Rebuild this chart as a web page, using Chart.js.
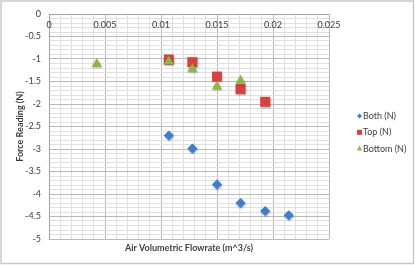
<!DOCTYPE html>
<html>
<head>
<meta charset="utf-8">
<script src="https://cdn.jsdelivr.net/npm/chart.js@4.4.1/dist/chart.umd.min.js"></script>
<style>
  html, body { margin: 0; padding: 0; background: #fff; }
  #wrap { width: 415px; height: 265px; }
</style>
</head>
<body>
<div id="wrap"><canvas id="forceChart" width="415" height="265"></canvas></div>
<script>
/* Force reading vs air volumetric flowrate — scatter */

const bothX   = [0.0107, 0.0128, 0.0150, 0.0171, 0.0193, 0.0214];
const bothY   = [-2.70, -2.99, -3.79, -4.20, -4.38, -4.47];
const topX    = [0.0107, 0.0128, 0.0150, 0.0171, 0.0193];
const topY    = [-1.01, -1.07, -1.39, -1.67, -1.95];
const bottomX = [0.00426, 0.0107, 0.0128, 0.0150, 0.0171];
const bottomY = [-1.11, -1.05, -1.22, -1.61, -1.48];

const xTickLabels = [0, 0.005, 0.01, 0.015, 0.02, 0.025];
const seriesNames = ['Both (N)', 'Top (N)', 'Bottom (N)'];

const FONT = 'Lato, "Open Sans", sans-serif';
const TEXT = '#404040';

function pts(xs, ys) {
  return xs.map((x, i) => ({ x: x, y: ys[i] }));
}

function isMultiple(v, step) {
  const q = v / step;
  return Math.abs(q - Math.round(q)) < 1e-6;
}

function fmt(v) {
  const r = Math.round(v * 1000) / 1000;
  return String(r === 0 ? 0 : r);
}

// white background + light frame around the whole chart
const framePlugin = {
  id: 'frame',
  beforeDraw(chart) {
    const ctx = chart.ctx;
    ctx.save();
    ctx.fillStyle = '#fff';
    ctx.fillRect(0, 0, chart.width, chart.height);
    ctx.strokeStyle = '#c9c9c9';
    ctx.lineWidth = 1.5;
    ctx.strokeRect(1, 1, chart.width - 2.5, chart.height - 2.5);
    ctx.restore();
  }
};

// x labels sit just under the y=0 axis line (Excel style)
const topLabelsPlugin = {
  id: 'topLabels',
  afterDraw(chart) {
    const ctx = chart.ctx;
    const xs = chart.scales.x;
    ctx.save();
    ctx.font = '9px ' + FONT;
    ctx.fillStyle = TEXT;
    ctx.textAlign = 'center';
    ctx.textBaseline = 'middle';
    xTickLabels.forEach(v => {
      ctx.fillText(fmt(v), xs.getPixelForValue(v), chart.chartArea.top + 11);
    });
    ctx.restore();
  }
};

// soft drop shadow on markers
const shadowPlugin = {
  id: 'shadow',
  beforeDatasetsDraw(chart) {
    const ctx = chart.ctx;
    ctx.save();
    ctx.shadowColor = 'rgba(0,0,0,0.35)';
    ctx.shadowBlur = 2;
    ctx.shadowOffsetX = 0.5;
    ctx.shadowOffsetY = 1;
  },
  afterDatasetsDraw(chart) {
    chart.ctx.restore();
  }
};

// legend on the right, small markers
const legendPlugin = {
  id: 'sideLegend',
  afterDraw(chart) {
    const ctx = chart.ctx;
    const mx = 359.5, tx = 363, y0 = 116, step = 16.3;
    ctx.save();
    ctx.font = '9px ' + FONT;
    ctx.textAlign = 'left';
    ctx.textBaseline = 'middle';
    chart.data.datasets.forEach((ds, i) => {
      const y = y0 + i * step;
      ctx.fillStyle = ds.backgroundColor;
      ctx.beginPath();
      if (ds.pointStyle === 'rectRot') {
        ctx.moveTo(mx, y - 2.5); ctx.lineTo(mx + 2.5, y); ctx.lineTo(mx, y + 2.5); ctx.lineTo(mx - 2.5, y);
      } else if (ds.pointStyle === 'rect') {
        ctx.rect(mx - 2.5, y - 2.5, 5, 5);
      } else {
        ctx.moveTo(mx, y - 3); ctx.lineTo(mx + 2.5, y + 2); ctx.lineTo(mx - 2.5, y + 2);
      }
      ctx.closePath();
      ctx.fill();
      ctx.fillStyle = TEXT;
      ctx.fillText(ds.label, tx, y);
    });
    ctx.restore();
  }
};

function gridColor(step, axisAtZero) {
  return function(c) {
    const v = c.tick ? c.tick.value : 0;
    if (axisAtZero && Math.abs(v) < 1e-9) return '#a3a3a3';
    return isMultiple(v, step) ? '#b9b9b9' : '#e0e0e0';
  };
}

new Chart(document.getElementById('forceChart'), {
  type: 'scatter',
  data: {
    datasets: [
      {
        label: seriesNames[0], data: pts(bothX, bothY), order: 2,
        pointStyle: 'rectRot', pointRadius: 5, pointHoverRadius: 5,
        backgroundColor: '#3d7fcf', borderColor: '#3d7fcf', borderWidth: 0
      },
      {
        label: seriesNames[1], data: pts(topX, topY), order: 1,
        pointStyle: 'rect', pointRadius: 7, pointHoverRadius: 7,
        backgroundColor: '#d8413d', borderColor: '#d8413d', borderWidth: 0
      },
      {
        label: seriesNames[2], data: pts(bottomX, bottomY), order: 0,
        pointStyle: 'triangle', pointRadius: 5.8, pointHoverRadius: 5.8,
        backgroundColor: '#8db83f', borderColor: '#8db83f', borderWidth: 0
      }
    ]
  },
  options: {
    responsive: false,
    animation: false,
    layout: { padding: { left: 0, top: 14, right: 86, bottom: 0 } },
    plugins: {
      legend: { display: false },
      tooltip: { enabled: false }
    },
    scales: {
      x: {
        type: 'linear', position: 'bottom',
        min: 0, max: 0.025,
        border: { display: false },
        grid: { color: gridColor(0.005, false), drawTicks: false, lineWidth: 1 },
        ticks: { display: false, stepSize: 0.001, autoSkip: false, maxTicksLimit: 100 },
        title: {
          display: true, text: 'Air Volumetric Flowrate (m^3/s)', color: TEXT,
          font: { family: FONT, size: 9, weight: 'bold' }, padding: { top: 0, bottom: 12 }
        },
        afterFit(s) { s.height = 26; }
      },
      y: {
        type: 'linear', position: 'left',
        min: -5, max: 0,
        border: { display: true, color: '#a3a3a3' },
        grid: { color: gridColor(0.5, true), drawTicks: false, lineWidth: 1 },
        ticks: {
          stepSize: 0.1, autoSkip: false, maxTicksLimit: 100, padding: 8,
          color: TEXT, font: { family: FONT, size: 9 },
          callback: v => isMultiple(v, 0.5) ? fmt(v) : ''
        },
        title: {
          display: true, text: 'Force Reading (N)', color: TEXT,
          font: { family: FONT, size: 9, weight: 'bold' }, padding: { top: 15, bottom: 0 }
        },
        afterFit(s) { s.width = 49; }
      }
    }
  },
  plugins: [framePlugin, shadowPlugin, topLabelsPlugin, legendPlugin]
});
</script>
</body>
</html>
